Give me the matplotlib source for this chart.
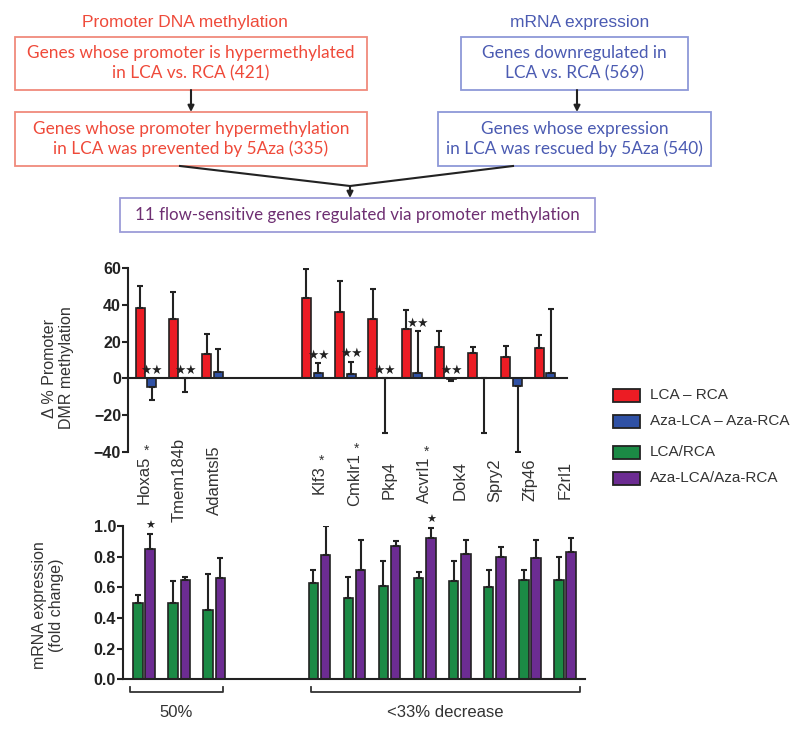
import matplotlib
matplotlib.use("Agg")
import matplotlib.pyplot as plt
from matplotlib.patches import Rectangle
import numpy as np

# genes and their slot on the x axis (gap between the two groups)
genes = ["Hoxa5", "Tmem184b", "Adamtsl5", "Klf3", "Cmklr1", "Pkp4",
         "Acvrl1", "Dok4", "Spry2", "Zfp46", "F2rl1"]
gene_star = [True, False, False, True, True, False, True, False, False, False, False]
gene_pos = [0, 1, 2, 5, 6, 7, 8, 9, 10, 11, 12]

# delta % promoter DMR methylation
lca_rca = [38.2, 32.4, 13.3, 43.6, 36.0, 32.4, 26.7, 17.1, 14.0, 11.6, 16.4]
lca_rca_err = [12.3, 14.5, 10.9, 15.9, 17.3, 16.1, 10.6, 8.7, 3.0, 5.9, 7.2]
aza_diff = [-4.6, 0.0, 3.3, 3.0, 2.2, 0.0, 3.0, -0.6, 0.0, -4.2, 3.1]
aza_diff_lo = [7.2, 7.6, 0, 0, 0, 30.0, 0, 0.8, 30.0, 35.8, 0]
aza_diff_hi = [0, 0, 12.5, 5.2, 6.8, 0, 22.8, 0, 0, 0, 34.6]
aza_diff_sig = ["**", "**", "", "**", "**", "**", "**", "**", "", "", ""]

# mRNA fold change
lca_fc = [0.50, 0.50, 0.45, 0.63, 0.53, 0.61, 0.66, 0.64, 0.60, 0.65, 0.65]
lca_fc_err = [0.05, 0.14, 0.24, 0.08, 0.14, 0.16, 0.04, 0.13, 0.11, 0.06, 0.15]
aza_fc = [0.85, 0.65, 0.66, 0.81, 0.71, 0.87, 0.92, 0.82, 0.80, 0.79, 0.83]
aza_fc_err = [0.10, 0.02, 0.13, 0.19, 0.20, 0.03, 0.07, 0.09, 0.06, 0.12, 0.09]
aza_fc_sig = ["*", "", "", "", "", "", "*", "", "", "", ""]

c_red, c_blue = "#ec1c24", "#2f51a5"
c_green, c_purple = "#1b8a45", "#6c2c92"
txt = "#333333"
font = "Liberation Sans"
plt.rcParams["font.family"] = [font, "DejaVu Sans"]

W, H = 800, 731
fig = plt.figure(figsize=(W / 100, H / 100), dpi=100)

# ---------------- flowchart (pixel coordinates) ----------------
fl = fig.add_axes([0, 0, 1, 1])
fl.set_xlim(0, W)
fl.set_ylim(H, 0)
fl.axis("off")

def box(x0, y0, x1, y1, lines, color, edge, size=12.4):
    fl.add_patch(Rectangle((x0, y0), x1 - x0, y1 - y0, fill=False,
                           ec=edge, lw=1.3))
    fl.text((x0 + x1) / 2, (y0 + y1) / 2, lines, color=color, fontsize=size,
            ha="center", va="center", family="Lato", linespacing=1.3)

def arrow(x0, y0, x1, y1):
    fl.annotate("", xy=(x1, y1), xytext=(x0, y0),
                arrowprops=dict(arrowstyle="-|>", color="#222222", lw=1.5,
                                mutation_scale=9, shrinkA=0, shrinkB=0))

red_t, red_e = "#ef4a3a", "#f08a7c"
blu_t, blu_e = "#4b5bb2", "#8e98d8"
pur_t, pur_e = "#6e2f72", "#9c9cd8"

fl.text(185, 23, "Promoter DNA methylation", color=red_t, fontsize=12.5,
        ha="center", va="center")
fl.text(580, 23, "mRNA expression", color=blu_t, fontsize=12.5,
        ha="center", va="center")
box(15, 37, 367, 90, "Genes whose promoter is hypermethylated\nin LCA vs. RCA (421)", red_t, red_e)
box(15, 112, 367, 166, "Genes whose promoter hypermethylation\nin LCA was prevented by 5Aza (335)", red_t, red_e)
box(461, 37, 688, 90, "Genes downregulated in\nLCA vs. RCA (569)", blu_t, blu_e)
box(438, 112, 711, 166, "Genes whose expression\nin LCA was rescued by 5Aza (540)", blu_t, blu_e)
box(120, 198, 595, 232, "11 flow-sensitive genes regulated via promoter methylation", pur_t, pur_e, size=12.2)
arrow(191, 90, 191, 112)
arrow(577, 90, 577, 112)
fl.plot([180, 350, 513], [166, 186, 166], color="#222222", lw=1.5)
arrow(350, 186, 350, 198)

# ---------------- upper chart: methylation ----------------
ax1 = fig.add_axes([128 / W, 1 - 451.6 / H, 439 / W, 183.3 / H])
x = np.array(gene_pos, dtype=float)
bw, off = 0.27, 0.175
ekw = dict(elinewidth=1.5, capthick=1.5, ecolor="#222222")
ax1.bar(x - off, lca_rca, bw, yerr=[np.zeros(len(x)), lca_rca_err],
        color=c_red, edgecolor="#222222", lw=1.2, capsize=2.5, error_kw=ekw)
ax1.bar(x + off, aza_diff, bw, yerr=[aza_diff_lo, aza_diff_hi],
        color=c_blue, edgecolor="#222222", lw=1.2, capsize=2.5, error_kw=ekw)
for xi, v, hi, s in zip(x, aza_diff, aza_diff_hi, aza_diff_sig):
    if s:
        ax1.text(xi + off, max(v + hi, 0) + 0.8, "\u2605\u2605", fontsize=9,
                 ha="center", va="bottom", family="DejaVu Sans", color="#222222")
ax1.set_xlim(-0.54, 12.66)
ax1.set_ylim(-40, 60)
ax1.set_yticks([-40, -20, 0, 20, 40, 60])
ax1.spines[["top", "right"]].set_visible(False)
ax1.spines["bottom"].set_position(("data", 0))
for sp in ax1.spines.values():
    sp.set_linewidth(1.5)
    sp.set_color("#222222")
ax1.set_xticks([])
ax1.tick_params(axis="y", length=4, width=1.5, labelsize=11.5, colors="#222222", pad=1)
for t in ax1.get_yticklabels():
    t.set_fontweight("bold")

# ---------------- lower chart: mRNA ----------------
ax2 = fig.add_axes([123 / W, 1 - 679.3 / H, 462 / W, 153.3 / H])
ax2.bar(x - off, lca_fc, bw, yerr=[np.zeros(len(x)), lca_fc_err],
        color=c_green, edgecolor="#222222", lw=1.2, capsize=2.5, error_kw=ekw)
ax2.bar(x + off, aza_fc, bw, yerr=[np.zeros(len(x)), aza_fc_err],
        color=c_purple, edgecolor="#222222", lw=1.2, capsize=2.5, error_kw=ekw)
for xi, v, e, s in zip(x, aza_fc, aza_fc_err, aza_fc_sig):
    if s:
        ax2.text(xi + off, v + e + 0.015, "\u2605", fontsize=8,
                 ha="center", va="bottom", family="DejaVu Sans", color="#222222")
ax2.set_xlim(-0.6, 12.57)
ax2.set_ylim(0, 1.0)
ax2.set_yticks(np.arange(0, 1.01, 0.2))
ax2.yaxis.set_major_formatter(matplotlib.ticker.FormatStrFormatter("%.1f"))
ax2.spines[["top", "right"]].set_visible(False)
for sp in ax2.spines.values():
    sp.set_linewidth(1.5)
    sp.set_color("#222222")
ax2.set_xticks([])
ax2.tick_params(axis="y", length=4, width=1.5, labelsize=11.5, colors="#222222", pad=1)
for t in ax2.get_yticklabels():
    t.set_fontweight("bold")

# gene labels between the charts
labels = []
for xi, g in zip(x, genes):
    labels.append(ax2.text(xi, 1.30, g, rotation=90, ha="center", va="center",
                           fontsize=12, color=txt, transform=ax2.get_xaxis_transform(),
                           clip_on=False))
fig.canvas.draw()
r = fig.canvas.get_renderer()
for t, st in zip(labels, gene_star):
    if st:
        bb = t.get_window_extent(r)
        fig.text(((bb.x0 + bb.x1) / 2 + 2) / W, (bb.y1 + 5) / H, "*", fontsize=10,
                 ha="center", va="center", color=txt)

# brackets under the mRNA chart
for (a, b), lab in [((-0.4, 2.25), "50%"), ((4.75, 12.42), "<33% decrease")]:
    ax2.plot([a, a, b, b], [-0.05, -0.085, -0.085, -0.05], color="#333333",
             lw=1.3, clip_on=False)
    ax2.text((a + b) / 2, -0.215, lab, ha="center", va="center",
             fontsize=12, color=txt, clip_on=False)

# y axis titles
fig.text(58 / W, 1 - 368 / H, "\u0394 % Promoter\nDMR methylation", rotation=90,
         ha="center", va="center", fontsize=11.5, color=txt, linespacing=1.15)
fig.text(48 / W, 1 - 605 / H, "mRNA expression\n(fold change)", rotation=90,
         ha="center", va="center", fontsize=11.5, color=txt, linespacing=1.15)

# legend
leg_items = [(c_red, "LCA \u2013 RCA", 395), (c_blue, "Aza-LCA \u2013 Aza-RCA", 421),
             (c_green, "LCA/RCA", 452), (c_purple, "Aza-LCA/Aza-RCA", 478)]
for col, lab, yy in leg_items:
    fl.add_patch(Rectangle((613, yy - 6.5), 27, 13, fc=col, ec="#222222", lw=1.3))
    fl.text(650, yy, lab, fontsize=11, va="center", ha="left", color=txt)

fig.savefig("out.png", dpi=100)
